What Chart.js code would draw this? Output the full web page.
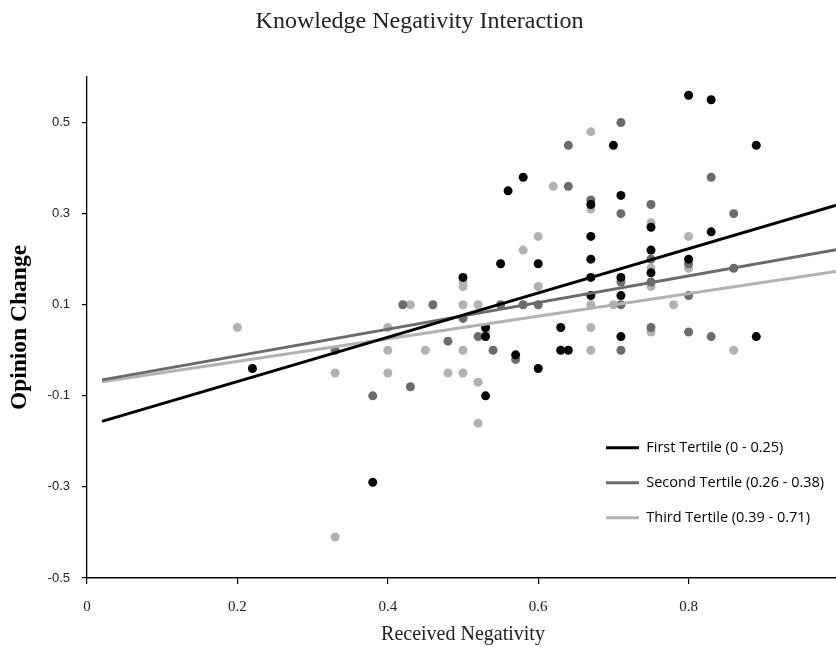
<!DOCTYPE html>
<html>
<head>
<meta charset="utf-8">
<script src="https://cdn.jsdelivr.net/npm/chart.js@4/dist/chart.umd.min.js"></script>
<style>
html, body { margin: 0; padding: 0; overflow: hidden; background: #fff; }
#wrap { width: 836px; height: 647px; overflow: hidden; }
canvas { display: block; }
</style>
</head>
<body>
<div id="wrap"><canvas id="c" width="860" height="647"></canvas></div>
<script>
// ---- Data ----
const firstX  = [0.22, 0.38, 0.50, 0.53, 0.53, 0.53, 0.55, 0.56, 0.58, 0.57, 0.60, 0.60, 0.63, 0.63, 0.64, 0.67, 0.67, 0.67, 0.67, 0.67, 0.70, 0.71, 0.71, 0.71, 0.71, 0.75, 0.75, 0.75, 0.80, 0.80, 0.83, 0.83, 0.89, 0.89];
const firstY  = [-0.04, -0.29, 0.16, 0.05, 0.03, -0.10, 0.19, 0.35, 0.38, -0.01, 0.19, -0.04, 0.05, 0.00, 0.00, 0.32, 0.25, 0.20, 0.16, 0.12, 0.45, 0.34, 0.16, 0.12, 0.03, 0.27, 0.22, 0.17, 0.56, 0.20, 0.55, 0.26, 0.45, 0.03];

const secondX = [0.33, 0.38, 0.42, 0.43, 0.46, 0.48, 0.50, 0.52, 0.54, 0.55, 0.57, 0.58, 0.60, 0.64, 0.64, 0.67, 0.71, 0.71, 0.71, 0.71, 0.71, 0.75, 0.75, 0.75, 0.75, 0.80, 0.80, 0.80, 0.83, 0.83, 0.86, 0.86];
const secondY = [0.00, -0.10, 0.10, -0.08, 0.10, 0.02, 0.07, 0.03, 0.00, 0.10, -0.02, 0.10, 0.10, 0.45, 0.36, 0.33, 0.50, 0.30, 0.15, 0.10, 0.00, 0.32, 0.20, 0.15, 0.05, 0.19, 0.12, 0.04, 0.38, 0.03, 0.30, 0.18];

const thirdX  = [0.20, 0.33, 0.33, 0.40, 0.40, 0.40, 0.43, 0.45, 0.48, 0.50, 0.50, 0.50, 0.50, 0.50, 0.52, 0.52, 0.52, 0.53, 0.58, 0.60, 0.60, 0.62, 0.67, 0.67, 0.67, 0.67, 0.67, 0.70, 0.75, 0.75, 0.75, 0.75, 0.78, 0.80, 0.80, 0.86];
const thirdY  = [0.05, -0.05, -0.41, 0.05, 0.00, -0.05, 0.10, 0.00, -0.05, 0.15, 0.14, 0.10, 0.00, -0.05, 0.10, -0.07, -0.16, 0.04, 0.22, 0.25, 0.14, 0.36, 0.48, 0.31, 0.10, 0.05, 0.00, 0.10, 0.28, 0.18, 0.14, 0.04, 0.10, 0.25, 0.18, 0.00];

// trend lines: start and end points
const trendX       = [0.02, 1.0];
const trendFirstY  = [-0.156, 0.320];
const trendSecondY = [-0.065, 0.222];
const trendThirdY  = [-0.069, 0.174];

const trendNames = ["First Tertile (0 - 0.25)", "Second Tertile (0.26 - 0.38)", "Third Tertile (0.39 - 0.71)"];
const xTicks = [0, 0.2, 0.4, 0.6, 0.8];
const yTicks = [-0.5, -0.3, -0.1, 0.1, 0.3, 0.5];

const cBlack = '#000000', cDark = '#6b6b6b', cLight = '#b2b2b2';

const pts = (xs, ys) => xs.map((x, i) => ({ x: x, y: ys[i] }));

const scatterDs = (data, color) => ({
  data: data, backgroundColor: color, borderColor: color, borderWidth: 0,
  pointRadius: 4.5, pointHoverRadius: 4.5, showLine: false, order: 2
});
const lineDs = (label, data, color) => ({
  label: label, data: data, borderColor: color, backgroundColor: color,
  borderWidth: 3, pointRadius: 0, showLine: true, order: 0
});

const legendPlacer = {
  id: 'legendPlacer',
  afterUpdate(chart) {
    const lg = chart.legend;
    if (!lg) return;
    lg.left = 585.5; lg.top = 420; lg.right = 860; lg.bottom = 560;
    lg.width = lg.right - lg.left; lg.height = lg.bottom - lg.top;
  }
};

new Chart(document.getElementById('c'), {
  type: 'scatter',
  data: {
    datasets: [
      scatterDs(pts(firstX, firstY), cBlack),
      scatterDs(pts(secondX, secondY), cDark),
      scatterDs(pts(thirdX, thirdY), cLight),
      lineDs(trendNames[0], pts(trendX, trendFirstY), cBlack),
      lineDs(trendNames[1], pts(trendX, trendSecondY), cDark),
      lineDs(trendNames[2], pts(trendX, trendThirdY), cLight)
    ]
  },
  options: {
    responsive: false,
    animation: false,
    layout: { padding: { left: 0, right: 21, top: 0, bottom: 0 } },
    plugins: {
      tooltip: { enabled: false },
      title: {
        display: true,
        text: 'Knowledge Negativity Interaction',
        color: '#222',
        font: { family: 'Liberation Serif', size: 24, weight: 'normal' },
        padding: { top: 7.6, bottom: 40.6 }
      },
      legend: {
        display: true,
        position: 'chartArea',
        align: 'start',
        labels: {
          boxWidth: 33, boxHeight: 3, padding: 20.5, color: '#222',
          font: { family: 'Open Sans', size: 14.5 },
          generateLabels: () => trendNames.map((t, i) => ({
            text: t, fillStyle: [cBlack, cDark, cLight][i], strokeStyle: [cBlack, cDark, cLight][i],
            lineWidth: 0, hidden: false, datasetIndex: 3 + i
          }))
        }
      }
    },
    scales: {
      x: {
        type: 'linear', min: 0, max: 1,
        afterBuildTicks: s => { s.ticks = xTicks.map(v => ({ value: v })); },
        afterFit: s => { s.height = 69; },
        grid: { display: true, drawOnChartArea: false, drawTicks: true, tickLength: 6, color: '#000', lineWidth: 1.2 },
        border: { display: true, color: '#000', width: 1.6 },
        ticks: { color: '#222', padding: 14, font: { family: 'Liberation Serif', size: 15 }, maxRotation: 0 },
        title: { display: true, text: 'Received Negativity', color: '#222',
          font: { family: 'Liberation Serif', size: 20 }, padding: { top: 0, bottom: 0 } }
      },
      y: {
        type: 'linear', min: -0.5, max: 0.6,
        afterBuildTicks: s => { s.ticks = yTicks.map(v => ({ value: v })); },
        afterFit: s => { s.width = 87; },
        grid: { display: true, drawOnChartArea: false, drawTicks: true, tickLength: 5, color: '#000', lineWidth: 1.2 },
        border: { display: true, color: '#000', width: 1.3 },
        ticks: { color: '#222', padding: 12, font: { family: 'Liberation Sans', size: 13 } },
        title: { display: true, text: 'Opinion Change', color: '#000',
          font: { family: 'Liberation Serif', size: 23.5, weight: 'bold' }, padding: { top: 6, bottom: 0 } }
      }
    }
  },
  plugins: [legendPlacer]
});
</script>
</body>
</html>
